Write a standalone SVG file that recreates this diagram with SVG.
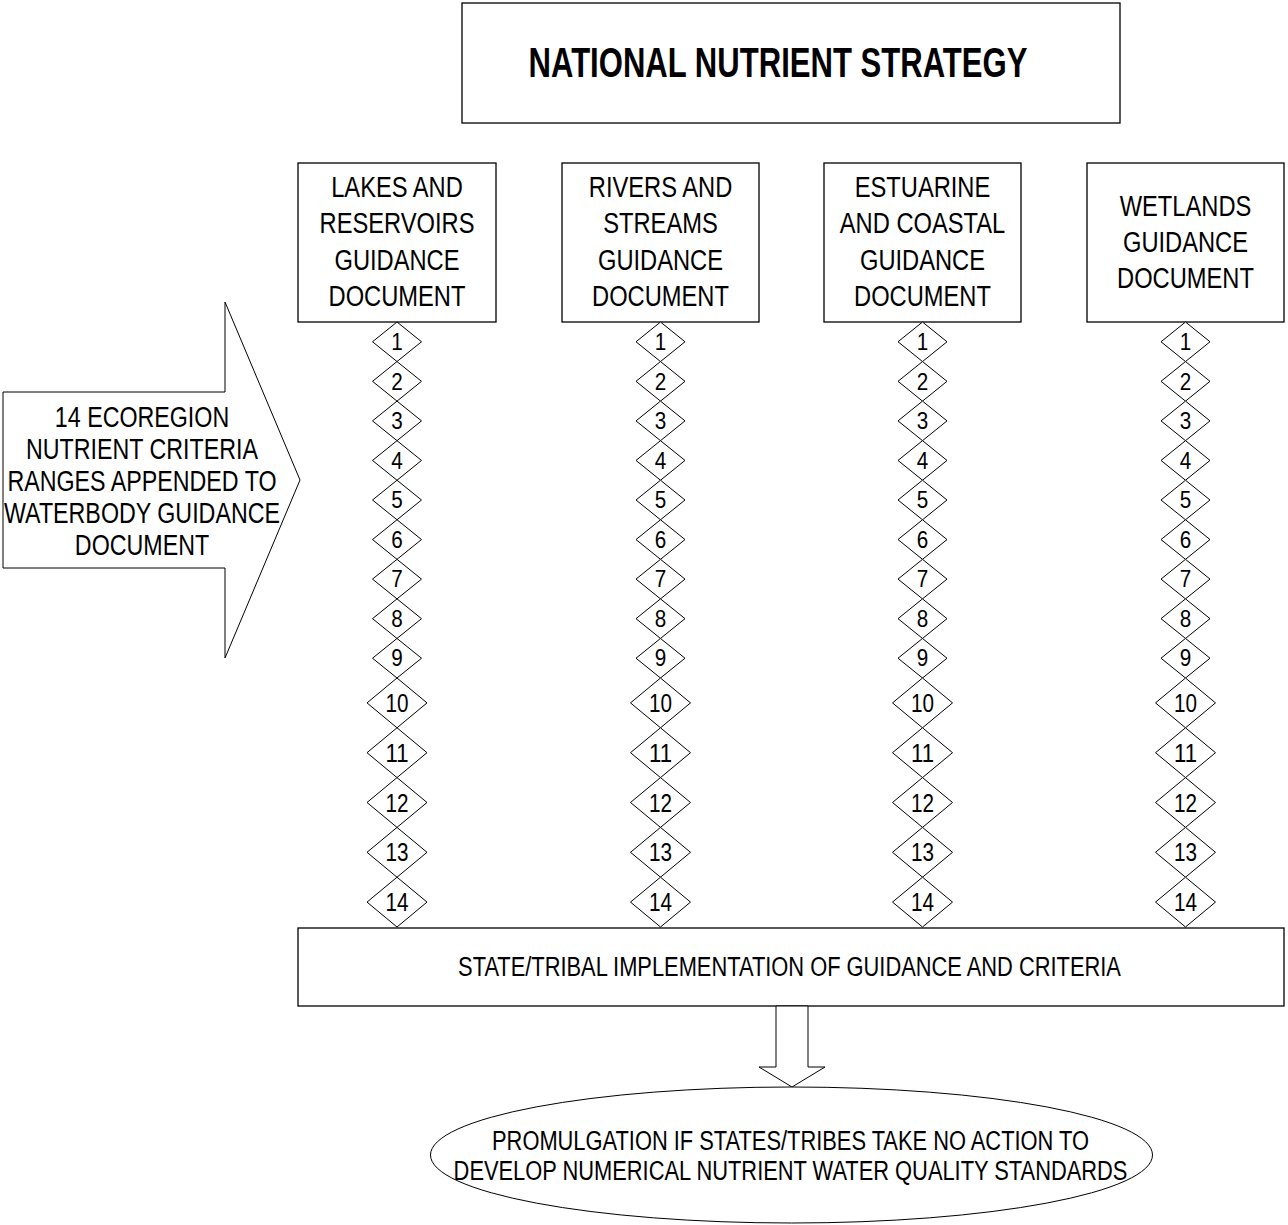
<svg xmlns="http://www.w3.org/2000/svg" width="1288" height="1225" viewBox="0 0 1288 1225">
<style>
.box{fill:#fff;stroke:#000;stroke-width:1.3}
.ln{fill:#fff;stroke:#000;stroke-width:1}
.t{font-family:"Liberation Sans",Arial,sans-serif;fill:#000;text-anchor:middle}
.bt{font-size:30px}
.st{font-size:27px}
.n1{font-size:23px}
.n2{font-size:25px}
.ttl{font-size:42px;font-weight:bold}
</style>
<defs>
<path id="ds" class="ln" d="M0,0 L24.5,19.78 L0,39.56 L-24.5,19.78 Z"/>
<path id="dl" class="ln" d="M0,0 L30,24.9 L0,49.8 L-30,24.9 Z"/>
<g id="nums">
<g class="t n1"><text x="0" y="350" textLength="11.5" lengthAdjust="spacingAndGlyphs">1</text><text x="0" y="389.6" textLength="11.5" lengthAdjust="spacingAndGlyphs">2</text><text x="0" y="429.1" textLength="11.5" lengthAdjust="spacingAndGlyphs">3</text><text x="0" y="468.7" textLength="11.5" lengthAdjust="spacingAndGlyphs">4</text><text x="0" y="508.2" textLength="11.5" lengthAdjust="spacingAndGlyphs">5</text><text x="0" y="547.8" textLength="11.5" lengthAdjust="spacingAndGlyphs">6</text><text x="0" y="587.3" textLength="11.5" lengthAdjust="spacingAndGlyphs">7</text><text x="0" y="626.9" textLength="11.5" lengthAdjust="spacingAndGlyphs">8</text><text x="0" y="666.4" textLength="11.5" lengthAdjust="spacingAndGlyphs">9</text></g>
<g class="t n2"><text x="0" y="711.9" textLength="23" lengthAdjust="spacingAndGlyphs">10</text><text x="0" y="761.7" textLength="23" lengthAdjust="spacingAndGlyphs">11</text><text x="0" y="811.5" textLength="23" lengthAdjust="spacingAndGlyphs">12</text><text x="0" y="861.3" textLength="23" lengthAdjust="spacingAndGlyphs">13</text><text x="0" y="911.1" textLength="23" lengthAdjust="spacingAndGlyphs">14</text></g>
</g>
<g id="chain">
<use href="#ds" x="0" y="322"/><use href="#ds" x="0" y="361.56"/><use href="#ds" x="0" y="401.11"/><use href="#ds" x="0" y="440.67"/><use href="#ds" x="0" y="480.22"/><use href="#ds" x="0" y="519.78"/><use href="#ds" x="0" y="559.33"/><use href="#ds" x="0" y="598.89"/><use href="#ds" x="0" y="638.44"/>
<use href="#dl" x="0" y="678"/><use href="#dl" x="0" y="727.8"/><use href="#dl" x="0" y="777.6"/><use href="#dl" x="0" y="827.4"/><use href="#dl" x="0" y="877.2"/>
</g>
</defs>
<rect width="1288" height="1225" fill="#fff"/>

<g id="title">
<rect class="box" x="462" y="3" width="658" height="120"/>
<text class="t ttl" transform="translate(778 0) scale(0.74 1)" x="0" y="77">NATIONAL NUTRIENT STRATEGY</text>
</g>

<g id="lakes">
<rect class="box" x="298" y="163" width="198" height="159"/>
<text class="t bt" transform="translate(397 0) scale(0.79 1)"><tspan x="0" y="197">LAKES AND</tspan><tspan x="0" y="233">RESERVOIRS</tspan><tspan x="0" y="270">GUIDANCE</tspan><tspan x="0" y="306">DOCUMENT</tspan></text>
</g>
<g id="rivers">
<rect class="box" x="562" y="163" width="197" height="159"/>
<text class="t bt" transform="translate(660.5 0) scale(0.79 1)"><tspan x="0" y="197">RIVERS AND</tspan><tspan x="0" y="233">STREAMS</tspan><tspan x="0" y="270">GUIDANCE</tspan><tspan x="0" y="306">DOCUMENT</tspan></text>
</g>
<g id="estuarine">
<rect class="box" x="824" y="163" width="197" height="159"/>
<text class="t bt" transform="translate(922.5 0) scale(0.79 1)"><tspan x="0" y="197">ESTUARINE</tspan><tspan x="0" y="233">AND COASTAL</tspan><tspan x="0" y="270">GUIDANCE</tspan><tspan x="0" y="306">DOCUMENT</tspan></text>
</g>
<g id="wetlands">
<rect class="box" x="1087" y="163" width="197" height="159"/>
<text class="t bt" transform="translate(1185.5 0) scale(0.79 1)"><tspan x="0" y="216">WETLANDS</tspan><tspan x="0" y="252">GUIDANCE</tspan><tspan x="0" y="288">DOCUMENT</tspan></text>
</g>

<g id="ecoregion-arrow">
<polygon class="ln" points="3,392 225,392 225,302 300,480 225,658 225,568 3,568"/>
<text class="t bt" transform="translate(142 0) scale(0.775 1)"><tspan x="0" y="427">14 ECOREGION</tspan><tspan x="0" y="459">NUTRIENT CRITERIA</tspan><tspan x="0" y="491">RANGES APPENDED TO</tspan><tspan x="0" y="523">WATERBODY GUIDANCE</tspan><tspan x="0" y="555">DOCUMENT</tspan></text>
</g>

<g id="diamonds-lakes" transform="translate(397 0)"><use href="#chain"/><use href="#nums"/></g>
<g id="diamonds-rivers" transform="translate(660.5 0)"><use href="#chain"/><use href="#nums"/></g>
<g id="diamonds-estuarine" transform="translate(922.5 0)"><use href="#chain"/><use href="#nums"/></g>
<g id="diamonds-wetlands" transform="translate(1185.5 0)"><use href="#chain"/><use href="#nums"/></g>

<g id="implementation">
<rect class="box" x="298" y="928" width="986" height="78"/>
<text class="t st" transform="translate(789.5 0) scale(0.81 1)" x="0" y="976">STATE/TRIBAL IMPLEMENTATION OF GUIDANCE AND CRITERIA</text>
</g>

<g id="connectors">
<polygon class="ln" points="776,1006 808,1006 808,1067 825,1067 792,1087 759,1067 776,1067"/>
</g>

<g id="promulgation">
<ellipse class="ln" cx="791.5" cy="1155" rx="361" ry="68"/>
<text class="t st" transform="translate(790.5 0) scale(0.81 1)"><tspan x="0" y="1150">PROMULGATION IF STATES/TRIBES TAKE NO ACTION TO</tspan><tspan x="0" y="1180">DEVELOP NUMERICAL NUTRIENT WATER QUALITY STANDARDS</tspan></text>
</g>
</svg>
